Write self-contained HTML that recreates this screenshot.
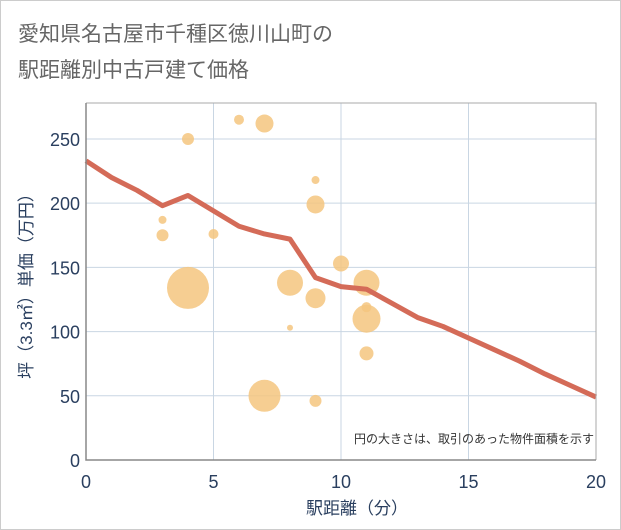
<!DOCTYPE html>
<html><head><meta charset="utf-8"><style>
body{margin:0;background:#fff;}
svg{display:block;font-family:"Liberation Sans","Noto Sans CJK JP",sans-serif;}
</style></head><body>
<svg width="621" height="530">
<rect x="0.5" y="0.5" width="620" height="529" fill="#fff" stroke="#ccc"/>
<text x="18" y="41" font-size="21" fill="#666">愛知県名古屋市千種区徳川山町の</text>
<text x="18" y="77" font-size="21" fill="#666">駅距離別中古戸建て価格</text>
<g id="grid"></g>
<g id="bubbles"></g>
<g id="line"></g>
<g id="axes"></g>
<text x="594" y="443" font-size="12" fill="#333" text-anchor="end">円の大きさは、取引のあった物件面積を示す</text>
<text x="357" y="514" font-size="17" fill="#2a3f5f" text-anchor="middle">駅距離（分）</text>
<text transform="translate(32,282) rotate(-90)" font-size="17" fill="#2a3f5f" text-anchor="middle">坪（3.3㎡）単価（万円）</text>
</svg>
<script>
const xTicks=[0,5,10,15,20];
const yTicks=[0,50,100,150,200,250];
const lineX=[0,1,2,3,4,5,6,7,8,9,10,11,12,13,14,15,16,17,18,19,20];
const lineY=[233,220,210,198,206,194,182,176,172,142,135,133,122,111,104,95,86,77,67,58,49];
const bubX=[4,7,8,11,11,9,10,9,7,6,4,3,3,5,9,11,9,8,11];
const bubY=[134,50,138,138,110,126,153,199,262,265,250,187,175,176,218,83,46,103,119];
const bubR=[21,16,13,13,14,10,8,9,9,5,6,4,6,5,4,7,6,3,5];
const L=86,R=596,T=103,B=460;
const sx=v=>L+(v-0)/20*(R-L);
const sy=v=>B-v/278*(B-T);
const NS='http://www.w3.org/2000/svg';
function mk(t,a,p){const e=document.createElementNS(NS,t);for(const k in a)e.setAttribute(k,a[k]);p.appendChild(e);return e;}
const grid=document.getElementById('grid');
xTicks.forEach(v=>{if(v>0){const e=mk('line',{x1:sx(v),x2:sx(v),y1:T,y2:B,stroke:'#c9d6e3','stroke-width':1},grid);

}});
yTicks.forEach(v=>{if(v>0){const e=mk('line',{x1:L,x2:R,y1:sy(v),y2:sy(v),stroke:'#c9d6e3','stroke-width':1},grid);

}});
const bub=document.getElementById('bubbles');
bubX.forEach((x,i)=>{const c=mk('circle',{cx:sx(x),cy:sy(bubY[i]),r:bubR[i],fill:'#f5c57f','fill-opacity':0.85},bub);

});
const ln=document.getElementById('line');
const p=mk('polyline',{points:lineX.map((x,i)=>sx(x)+','+sy(lineY[i])).join(' '),fill:'none',stroke:'#d46b58','stroke-width':5,'stroke-linejoin':'round'},ln);


const ax=document.getElementById('axes');
const a1=mk('path',{d:`M${L},${T}H${R}V${B}`,fill:'none',stroke:'#aaa','stroke-width':1},ax);


const a2=mk('path',{d:`M${L},${T}V${B}H${R}`,fill:'none',stroke:'#888','stroke-width':1.5},ax);


xTicks.forEach(v=>{const t=mk('text',{x:sx(v),y:488,'font-size':18,fill:'#2a3f5f','text-anchor':'middle'},ax);t.textContent=v;

});
yTicks.forEach(v=>{const t=mk('text',{x:80,y:sy(v)+7,'font-size':18,fill:'#2a3f5f','text-anchor':'end'},ax);t.textContent=v;

});
</script>
</body></html>
